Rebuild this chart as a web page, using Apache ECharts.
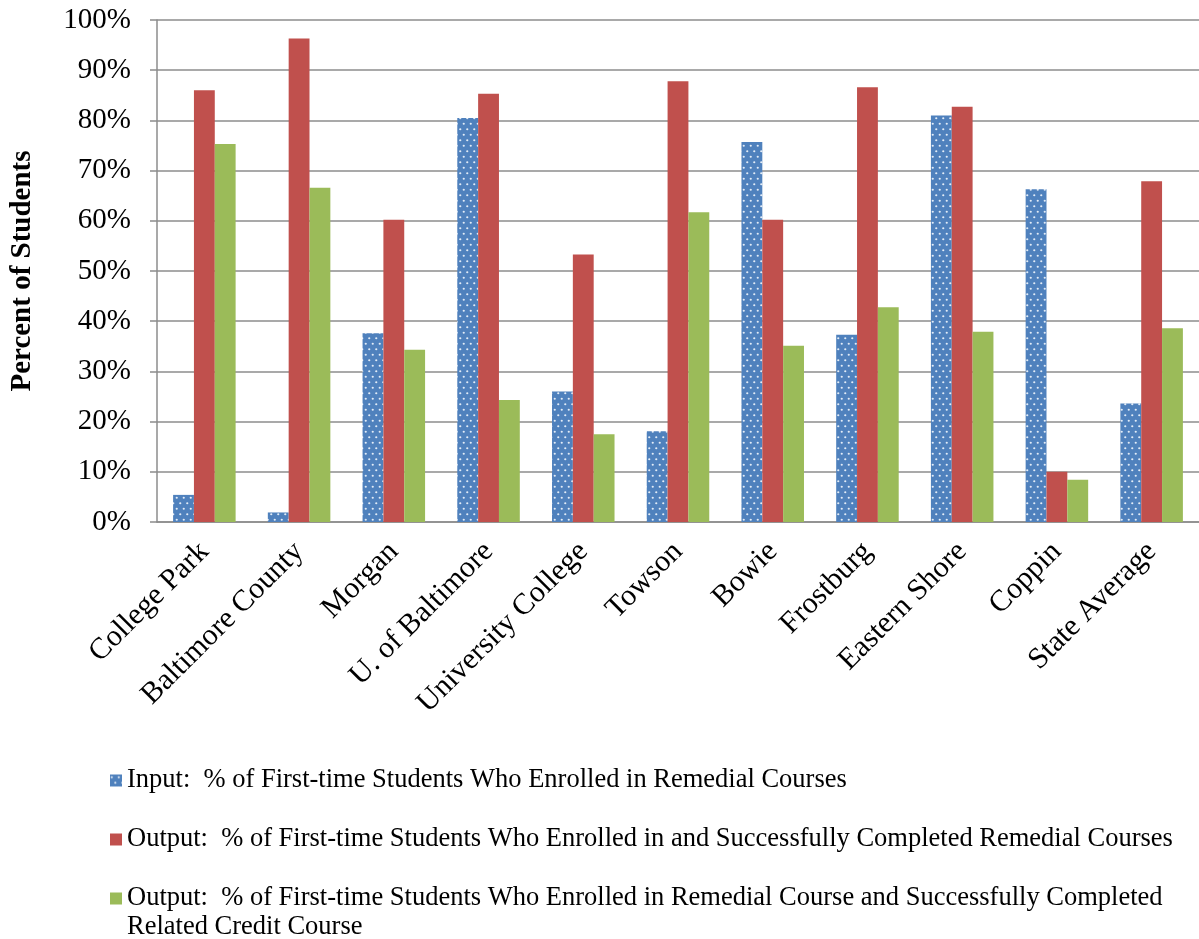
<!DOCTYPE html>
<html>
<head>
<meta charset="utf-8">
<script src="https://cdn.jsdelivr.net/npm/echarts@6/dist/echarts.min.js"></script>
<style>
  html, body { margin: 0; padding: 0; background: #fff; }
  #chart { width: 1199px; height: 939px; }
</style>
</head>
<body>
<div id="chart"></div>
<script>
const categories = ['College Park', 'Baltimore County', 'Morgan', 'U. of Baltimore', 'University College',
  'Towson', 'Bowie', 'Frostburg', 'Eastern Shore', 'Coppin', 'State Average']
const inputPct = [5.4, 1.9, 37.6, 80.5, 26.0, 18.1, 75.7, 37.3, 81.0, 66.3, 23.6]
const completedPct = [86.0, 96.3, 60.2, 85.3, 53.3, 87.8, 60.2, 86.6, 82.7, 10.0, 67.9]
const creditPct = [75.3, 66.6, 34.3, 24.3, 17.5, 61.7, 35.1, 42.8, 37.9, 8.4, 38.6]
const seriesNames = [
  'Input:  % of First-time Students Who Enrolled in Remedial Courses',
  'Output:  % of First-time Students Who Enrolled in and Successfully Completed Remedial Courses',
  'Output:  % of First-time Students Who Enrolled in Remedial Course and Successfully Completed Related Credit Course'
]

const serif = "'Liberation Serif', 'Times New Roman', serif"

// dotted blue fill for the input series
const makeDots = () => {
  const c = document.createElement('canvas')
  c.width = 7
  c.height = 11
  const ctx = c.getContext('2d')
  ctx.fillStyle = '#4F81BD'
  ctx.fillRect(0, 0, 7, 11)
  ctx.fillStyle = 'rgba(235, 242, 250, 0.95)'
  ctx.beginPath()
  ctx.arc(1.75, 2.75, 1.1, 0, Math.PI * 2)
  ctx.fill()
  ctx.beginPath()
  ctx.arc(5.25, 8.25, 1.1, 0, Math.PI * 2)
  ctx.fill()
  return c
}

const chart = echarts.init(document.getElementById('chart'))
const option = {
  backgroundColor: '#fff',
  animation: false,
  textStyle: { fontFamily: serif, color: '#000' },
  grid: { left: 153, top: 20, width: 1052, height: 502 },
  legend: {
    orient: 'vertical',
    left: 110,
    top: 767,
    padding: 0,
    itemWidth: 12,
    itemHeight: 12,
    itemGap: 32,
    icon: 'rect',
    textStyle: { fontFamily: serif, fontSize: 26.5, color: '#000' },
    formatter: (name) => name === seriesNames[2]
      ? 'Output:  % of First-time Students Who Enrolled in Remedial Course and Successfully Completed'
      : name
  },
  graphic: [{
    type: 'text',
    left: 127,
    top: 914,
    style: { text: 'Related Credit Course', font: '26.5px ' + serif, fill: '#000' }
  }],
  xAxis: {
    type: 'category',
    data: categories,
    axisLine: { lineStyle: { color: '#8c8c8c', width: 1.5 } },
    axisTick: { length: 6, lineStyle: { color: '#8c8c8c', width: 1.5 } },
    axisLabel: { interval: 0, rotate: 45, margin: 25, fontSize: 30, fontFamily: serif, color: '#000' }
  },
  yAxis: {
    type: 'value',
    min: 0,
    max: 100,
    interval: 10,
    name: 'Percent of Students',
    nameLocation: 'middle',
    nameRotate: 90,
    nameGap: 120,
    nameTextStyle: { fontSize: 29, fontWeight: 'bold', fontFamily: serif, color: '#000' },
    axisLine: { show: true, lineStyle: { color: '#8c8c8c', width: 1.5 } },
    axisTick: { show: true, length: 7, lineStyle: { color: '#8c8c8c', width: 1.5 } },
    axisLabel: { formatter: '{value}%', margin: 26, fontSize: 29, fontFamily: serif, color: '#000' },
    splitLine: { lineStyle: { color: '#8c8c8c', width: 1.5 } }
  },
  series: [
    {
      name: seriesNames[0],
      type: 'bar',
      data: inputPct,
      barGap: '0%',
      barCategoryGap: '34%',
      itemStyle: { color: { image: makeDots(), repeat: 'repeat' } }
    },
    {
      name: seriesNames[1],
      type: 'bar',
      data: completedPct,
      itemStyle: { color: '#C0504D' }
    },
    {
      name: seriesNames[2],
      type: 'bar',
      data: creditPct,
      itemStyle: { color: '#9BBB59' }
    }
  ]
}
chart.setOption(option)
</script>
</body>
</html>
